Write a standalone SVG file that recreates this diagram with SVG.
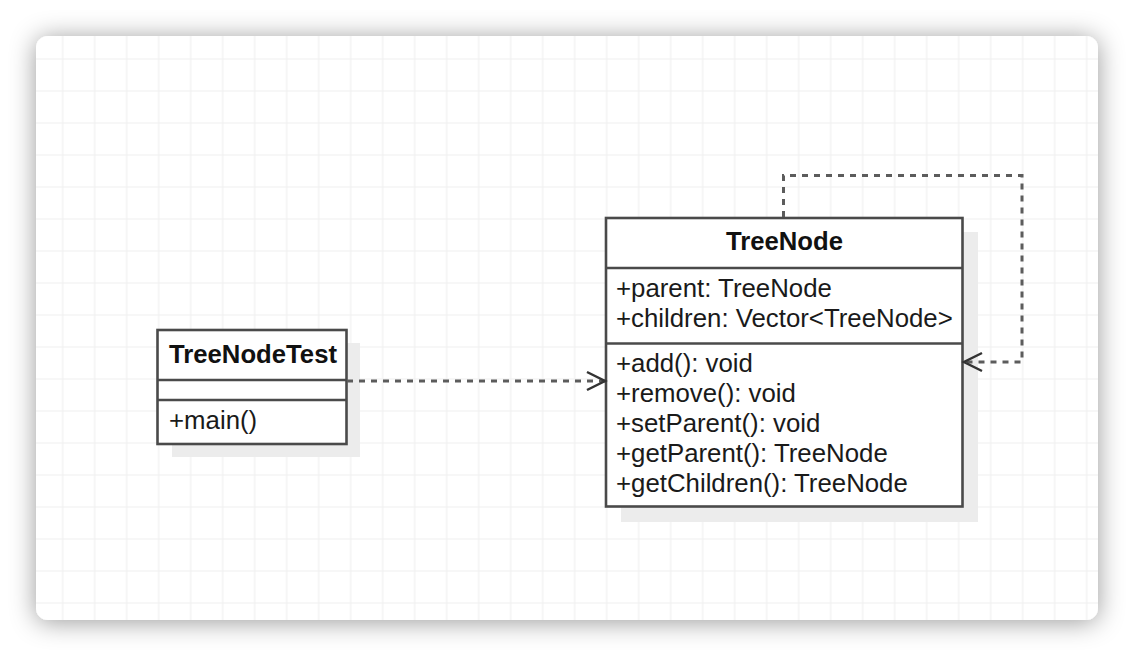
<svg xmlns="http://www.w3.org/2000/svg" width="1134" height="656" viewBox="0 0 1134 656">
  <defs>
    <filter id="cardShadow" x="-10%" y="-15%" width="120%" height="130%">
      <feDropShadow dx="0" dy="2" stdDeviation="13" flood-color="#000" flood-opacity="0.4"/>
    </filter>
    <pattern id="grid" patternUnits="userSpaceOnUse" x="46.7" y="43" width="32" height="32">
      <path d="M16 0 V32 M0 16 H32" stroke="#f0f0f0" stroke-width="1.2" fill="none"/>
    </pattern>
    <marker id="openArrow" markerUnits="userSpaceOnUse" markerWidth="24" markerHeight="24" viewBox="-20 -12 24 24" refX="0" refY="0" orient="auto">
      <path d="M-18,-9 L0,0 L-18,9" fill="none" stroke="#333" stroke-width="2.5" stroke-dasharray="none"/>
    </marker>
  </defs>
  <style>
    .box { fill: #ffffff; stroke: #4a4a4a; stroke-width: 2.6; }
    .shadow { fill: #ececec; }
    .div { stroke: #4a4a4a; stroke-width: 2.6; }
    .title { font-family: "Liberation Sans", Arial, sans-serif; font-weight: bold; font-size: 25.7px; fill: #111; text-anchor: middle; }
    .item { font-family: "Liberation Sans", Arial, sans-serif; font-size: 25.8px; fill: #1a1a1a; }
    .dep { fill: none; stroke: #5c5c5c; stroke-width: 3; stroke-dasharray: 6 6; }
  </style>

  <rect x="0" y="0" width="1134" height="656" fill="#ffffff"/>
  <g id="card">
    <rect x="36" y="36" width="1062" height="584" rx="12" fill="#ffffff" filter="url(#cardShadow)"/>
    <rect x="36" y="36" width="1062" height="584" rx="12" fill="url(#grid)"/>
  </g>

  <g id="TreeNodeTest">
    <rect class="shadow" x="172" y="343" width="188" height="114"/>
    <rect class="box" x="157.5" y="330" width="189" height="114"/>
    <line class="div" x1="157.5" y1="380" x2="346.5" y2="380"/>
    <line class="div" x1="157.5" y1="400" x2="346.5" y2="400"/>
    <text class="title" x="253" y="363">TreeNodeTest</text>
    <text class="item" x="169" y="429">+main()</text>
  </g>

  <g id="TreeNode">
    <rect class="shadow" x="621" y="232" width="357" height="290"/>
    <rect class="box" x="606" y="218" width="356.5" height="288.5"/>
    <line class="div" x1="606" y1="268" x2="962.5" y2="268"/>
    <line class="div" x1="606" y1="343.5" x2="962.5" y2="343.5"/>
    <text class="title" x="784.5" y="250">TreeNode</text>
    <text class="item" x="616" y="297">+parent: TreeNode</text>
    <text class="item" x="616" y="327">+children: Vector&lt;TreeNode&gt;</text>
    <text class="item" x="616" y="372">+add(): void</text>
    <text class="item" x="616" y="402">+remove(): void</text>
    <text class="item" x="616" y="432">+setParent(): void</text>
    <text class="item" x="616" y="462">+getParent(): TreeNode</text>
    <text class="item" x="616" y="492">+getChildren(): TreeNode</text>
  </g>

  <g id="connectors">
    <path class="dep" d="M347,381 H605" marker-end="url(#openArrow)"/>
    <path class="dep" d="M783.5,217 V175.5 H1022 V362 H964" marker-end="url(#openArrow)"/>
  </g>
</svg>
